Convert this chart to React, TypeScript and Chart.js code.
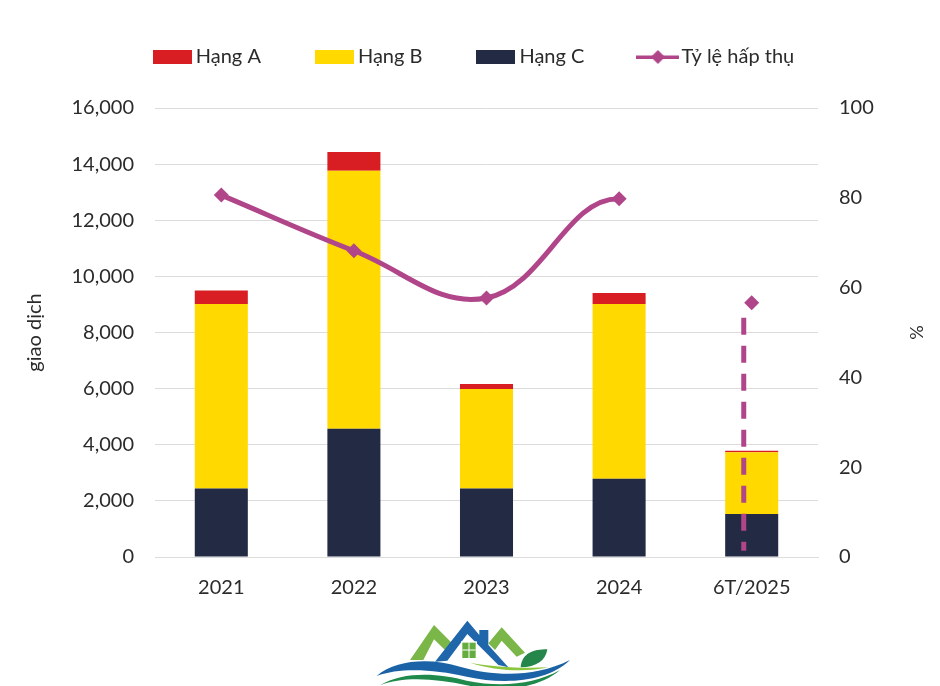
import React, { useEffect, useRef } from "react";
import { Chart, registerables } from "chart.js";

Chart.register(...registerables);

const categories = ["2021", "2022", "2023", "2024", "6T/2025"];
const hangC = [2440, 4570, 2440, 2790, 1530];
const hangB = [6580, 9190, 3550, 6230, 2200];
const hangA = [480, 670, 175, 390, 55];
const absorption = [80.6, 68.2, 57.7, 79.8, 56.6];
const dashedGuide = [
  { x: 3.94, y: 53.3 },
  { x: 3.94, y: 1.4 },
];
const leftTicks = { min: 0, max: 16000, step: 2000 };
const rightTicks = { min: 0, max: 100, step: 20 };

const RED = "#d81e23";
const YELLOW = "#ffd900";
const NAVY = "#222a44";
const PURPLE = "#b04689";
const TEXT = "#2b2b2b";
const GRID = "#dcdcdc";
const FONT = "Lato, sans-serif";

function swatch(color: string) {
  const c = document.createElement("canvas");
  c.width = 39;
  c.height = 14;
  const g = c.getContext("2d")!;
  g.fillStyle = color;
  g.fillRect(0, 0, 39, 14);
  return c;
}

function lineSwatch(color: string) {
  const c = document.createElement("canvas");
  c.width = 43;
  c.height = 16;
  const g = c.getContext("2d")!;
  g.fillStyle = color;
  g.fillRect(0, 6.5, 43, 3.5);
  g.beginPath();
  g.moveTo(21.5, 1);
  g.lineTo(28.5, 8);
  g.lineTo(21.5, 15);
  g.lineTo(14.5, 8);
  g.closePath();
  g.fill();
  return c;
}

function Logo() {
  return (
    <svg
      viewBox="0 0 690 228"
      width={230}
      height={76}
      style={{ position: "absolute", left: 360, top: 610 }}
    >
      <polygon points="150,150 222,45 275,98 255,120 222,88 190,150" fill="#7ab648" />
      <polygon points="385,100 425,52 495,128 470,140 425,92 405,120" fill="#7ab648" />
      <polygon
        points="225,155 322,32 358,75 358,60 385,60 385,105 445,172 415,165 322,72 262,152"
        fill="#1f66ab"
      />
      <rect x={303} y={94} width={48} height={54} fill="#fff" />
      <rect x={307} y={98} width={40} height={46} fill="#63ad3f" />
      <path d="M327 98V144M307 120H347" stroke="#fff" strokeWidth={3} />
      <path d="M482 172C485 130 520 118 562 118C558 150 530 172 482 172Z" fill="#24864a" />
      <path d="M330 158C400 170 480 176 565 172C500 188 400 182 330 158Z" fill="#8cc63f" />
      <path
        d="M50 198C110 145 220 145 300 170C400 198 520 205 630 150C560 218 430 224 320 200C220 178 120 172 50 198Z"
        fill="#1b63a6"
      />
      <path
        d="M60 226C130 182 240 190 320 212C420 232 520 225 600 180C530 240 420 245 320 226C230 206 130 198 60 226Z"
        fill="#1f8a4b"
      />
    </svg>
  );
}

export default function App() {
  const ref = useRef<HTMLCanvasElement>(null);

  useEffect(() => {
    const swatches: Record<string, HTMLCanvasElement> = {
      "Hạng A": swatch(RED),
      "Hạng B": swatch(YELLOW),
      "Hạng C": swatch(NAVY),
      "Tỷ lệ hấp thụ": lineSwatch(PURPLE),
    };
    const lastIndex = absorption.length - 1;
    const chart = new Chart(ref.current!, {
      type: "bar",
      data: {
        labels: categories,
        datasets: [
          { label: "Hạng C", data: hangC, backgroundColor: NAVY, yAxisID: "y", stack: "s", order: 2 },
          { label: "Hạng B", data: hangB, backgroundColor: YELLOW, yAxisID: "y", stack: "s", order: 2 },
          { label: "Hạng A", data: hangA, backgroundColor: RED, yAxisID: "y", stack: "s", order: 2 },
          {
            type: "line",
            label: "Tỷ lệ hấp thụ",
            data: absorption,
            yAxisID: "y1",
            borderColor: PURPLE,
            backgroundColor: PURPLE,
            borderWidth: 5,
            tension: 0.4,
            pointStyle: "rectRot",
            pointRadius: 7.5,
            pointBorderWidth: 0,
            segment: {
              borderColor: (c: any) => (c.p1DataIndex === lastIndex ? "transparent" : PURPLE),
            },
            order: 0,
          },
          {
            type: "line",
            label: "guide",
            data: dashedGuide,
            parsing: false,
            yAxisID: "y1",
            borderColor: PURPLE,
            borderWidth: 5,
            borderDash: [17, 11],
            pointRadius: 0,
            order: 1,
          },
        ] as any,
      },
      options: {
        responsive: false,
        animation: false,
        devicePixelRatio: 1,
        layout: { padding: { left: 13, right: 0, top: -13, bottom: 0 } },
        datasets: { bar: { barPercentage: 1, categoryPercentage: 0.4 } },
        plugins: {
          tooltip: { enabled: false },
          legend: {
            position: "top",
            align: "center",
            onClick: () => {},
            labels: {
              usePointStyle: true,
              pointStyleWidth: 27,
              boxHeight: 14,
              padding: 60,
              color: TEXT,
              font: { family: FONT, size: 20 },
              generateLabels: () =>
                Object.keys(swatches).map((k) => ({
                  text: k,
                  pointStyle: swatches[k],
                  fontColor: TEXT,
                  lineWidth: 0,
                  strokeStyle: "transparent",
                  fillStyle: "transparent",
                  hidden: false,
                })),
            },
          },
        },
        scales: {
          x: {
            stacked: true,
            grid: { display: false },
            border: { color: GRID },
            ticks: { color: TEXT, padding: 11, font: { family: FONT, size: 20 } },
            afterFit: (s: any) => {
              s.height = 129;
            },
          },
          xSpacer: {
            type: "category",
            position: "top",
            grid: { display: false },
            border: { display: false },
            ticks: { display: false },
            afterFit: (s: any) => {
              s.height = 31;
            },
          },
          y: {
            stacked: true,
            min: leftTicks.min,
            max: leftTicks.max,
            grid: { color: GRID, drawTicks: false },
            border: { display: false },
            ticks: {
              stepSize: leftTicks.step,
              color: TEXT,
              padding: 21,
              font: { family: FONT, size: 20 },
              callback: (v: any) => Number(v).toLocaleString("en-US"),
            },
            title: {
              display: true,
              text: "giao dịch",
              color: TEXT,
              padding: { top: 10, bottom: 0 },
              font: { family: FONT, size: 20, weight: "normal" },
            },
            afterFit: (s: any) => {
              s.width = 142;
            },
          },
          y1: {
            position: "right",
            min: rightTicks.min,
            max: rightTicks.max,
            grid: { display: false, drawTicks: false },
            border: { display: false },
            ticks: {
              stepSize: rightTicks.step,
              color: TEXT,
              padding: 21,
              font: { family: FONT, size: 20 },
            },
            title: {
              display: true,
              text: "%",
              color: TEXT,
              padding: { top: 13, bottom: 0 },
              font: { family: FONT, size: 18, weight: "normal" },
            },
            afterFit: (s: any) => {
              s.width = 122;
            },
          },
        },
      } as any,
    });
    return () => chart.destroy();
  }, []);

  return (
    <div style={{ position: "absolute", left: 0, top: 0, width: 940, height: 686, background: "#fff", overflow: "hidden" }}>
      <canvas ref={ref} width={940} height={686} style={{ display: "block" }} />
      <Logo />
    </div>
  );
}
